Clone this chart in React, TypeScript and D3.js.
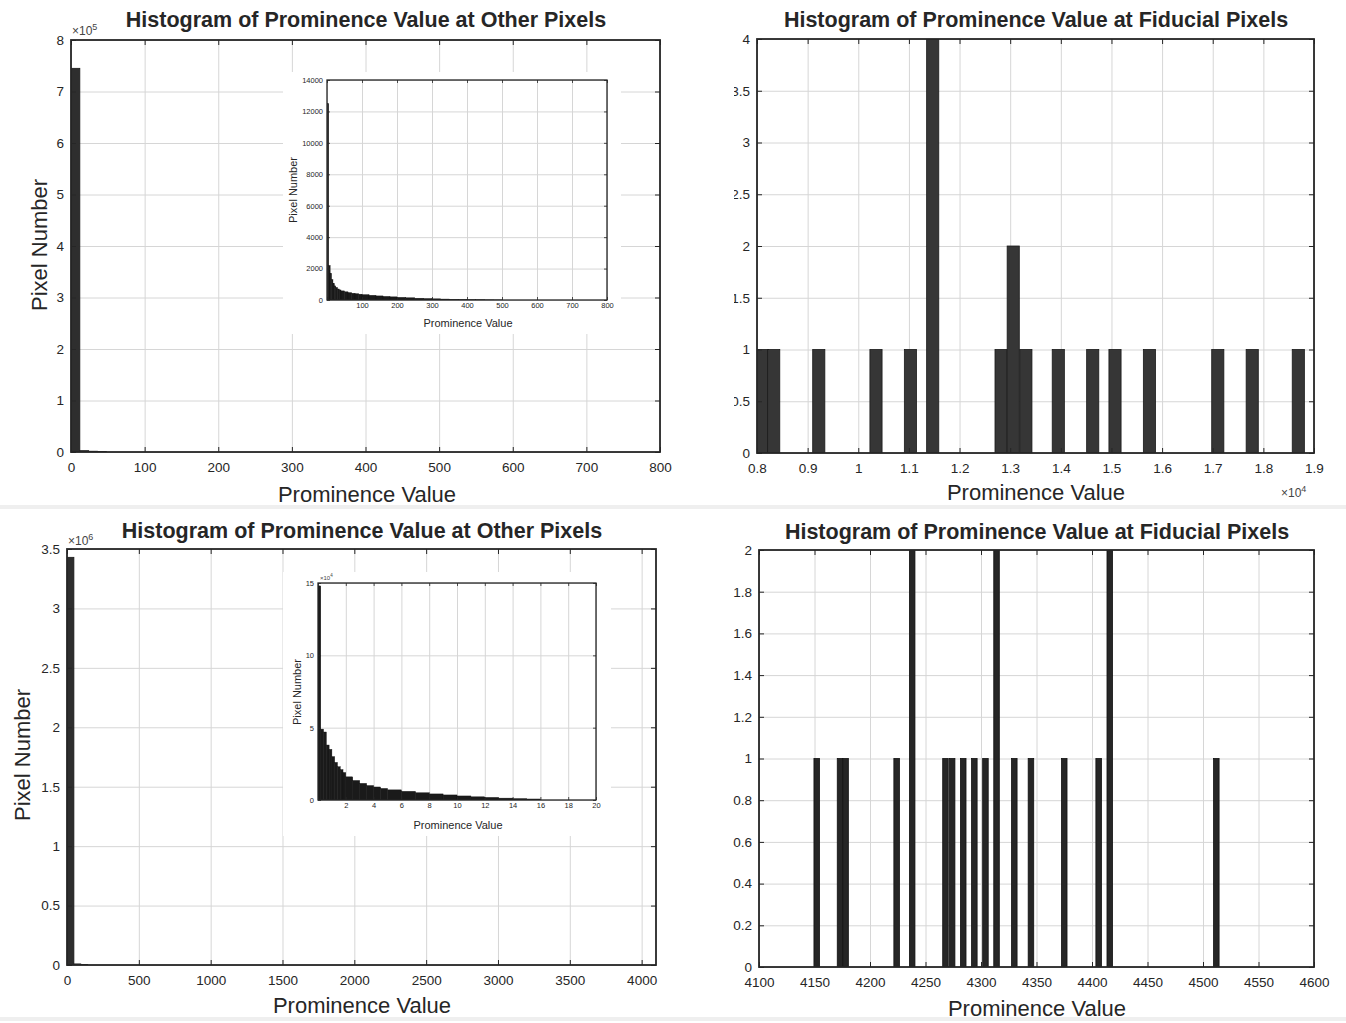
import React, { useEffect, useRef } from "react";
import * as d3 from "d3";

// ---- data ----

// top-left: other pixels, full range (bin edges / counts)
const otherAEdges = [0, 12, 24, 36, 48];
const otherACounts = [745000, 2600, 1500, 900];

// top-left inset: other pixels with zero values left out
const insetAEdges = [1, 5, 9, 13, 17, 21, 25, 30, 35, 40, 50, 60, 70, 80, 90, 100, 120, 140, 160, 180, 200, 225, 250, 275, 300, 325, 350, 375, 400, 425, 450, 475, 500];
const insetACounts = [12500, 2200, 1700, 1300, 1050, 900, 800, 700, 640, 580, 520, 470, 430, 400, 370, 340, 300, 260, 230, 200, 170, 140, 115, 95, 75, 60, 45, 35, 20, 15, 12, 8];

// top-right: fiducial pixels (bin centres, x10^4)
const fidACenters = [0.811, 0.833, 0.922, 1.035, 1.103, 1.147, 1.282, 1.306, 1.331, 1.395, 1.463, 1.507, 1.575, 1.71, 1.778, 1.869];
const fidACounts = [1, 1, 1, 1, 1, 4, 1, 2, 1, 1, 1, 1, 1, 1, 1, 1];
const fidAWidth = 0.024;

// bottom-left: other pixels, full range
const otherBEdges = [0, 48, 96, 144];
const otherBCounts = [3430000, 9000, 4000];

// bottom-left inset (x10^4 on y)
const insetBEdges = [0, 0.2, 0.4, 0.6, 0.8, 1, 1.2, 1.4, 1.6, 1.8, 2, 2.5, 3, 3.5, 4, 4.5, 5, 6, 7, 8, 9, 10, 11, 12, 13, 14, 15, 16];
const insetBCounts = [148000, 49000, 47000, 38000, 35000, 30000, 26000, 23000, 21000, 19000, 16000, 13500, 11500, 10000, 9000, 8000, 7000, 6000, 5000, 4200, 3500, 2800, 2200, 1800, 1300, 1000, 700];

// bottom-right: fiducial pixels (bin centres)
const fidBCenters = [4152, 4173, 4178, 4224, 4238, 4268, 4274, 4284, 4294, 4304, 4314, 4330, 4345, 4375, 4406, 4416, 4512];
const fidBCounts = [1, 1, 1, 1, 2, 1, 1, 1, 1, 1, 2, 1, 1, 1, 1, 2, 1];
const fidBWidth = 5;

const titleOther = "Histogram of Prominence Value at Other Pixels";
const titleFid = "Histogram of Prominence Value at Fiducial Pixels";
const xLabel = "Prominence Value";
const yLabel = "Pixel Number";

const FONT = "'Liberation Sans', Arial, Helvetica, sans-serif";
const INK = "#262626";
const GRID = "#d6d6d6";

const fromEdges = (edges, counts) => counts.map((v, i) => ({ x0: edges[i], x1: edges[i + 1], v }));
const fromCenters = (centers, counts, w) => counts.map((v, i) => ({ x0: centers[i] - w / 2, x1: centers[i] + w / 2, v }));

const fmt = d3.format("~g");

function drawHist(svg, id, r, o) {
  const x = d3.scaleLinear().domain(o.xDom).range([r.left, r.right]);
  const y = d3.scaleLinear().domain(o.yDom).range([r.bottom, r.top]);
  const w = r.right - r.left;
  const h = r.bottom - r.top;
  const g = svg.append("g");

  g.append("rect").attr("x", r.left).attr("y", r.top).attr("width", w).attr("height", h).attr("fill", "#fff");

  // grid
  g.append("g")
    .attr("transform", `translate(0,${r.bottom})`)
    .call(d3.axisBottom(x).tickValues(o.xTicks).tickSize(-h).tickFormat(() => ""))
    .call((a) => a.select(".domain").remove())
    .selectAll("line").attr("stroke", GRID);
  g.append("g")
    .attr("transform", `translate(${r.left},0)`)
    .call(d3.axisLeft(y).tickValues(o.yTicks).tickSize(-w).tickFormat(() => ""))
    .call((a) => a.select(".domain").remove())
    .selectAll("line").attr("stroke", GRID);

  // bars
  svg.append("clipPath").attr("id", id)
    .append("rect").attr("x", r.left).attr("y", r.top).attr("width", w).attr("height", h);
  g.append("g")
    .attr("clip-path", `url(#${id})`)
    .selectAll("rect")
    .data(o.bins)
    .join("rect")
    .attr("x", (d) => x(d.x0))
    .attr("width", (d) => Math.max(0.6, x(d.x1) - x(d.x0)))
    .attr("y", (d) => y(d.v))
    .attr("height", (d) => y(0) - y(d.v))
    .attr("fill", o.barFill)
    .attr("stroke", o.barEdge)
    .attr("stroke-width", o.barEdgeW);

  // ticks on all four sides, pointing in
  const t = o.tick;
  const axes = [
    g.append("g").attr("transform", `translate(0,${r.bottom})`)
      .call(d3.axisBottom(x).tickValues(o.xTicks).tickSizeInner(-t).tickSizeOuter(0).tickPadding(o.xPad).tickFormat(o.xFmt)),
    g.append("g").attr("transform", `translate(0,${r.top})`)
      .call(d3.axisTop(x).tickValues(o.xTicks).tickSizeInner(-t).tickSizeOuter(0).tickFormat(() => "")),
    g.append("g").attr("transform", `translate(${r.left},0)`)
      .call(d3.axisLeft(y).tickValues(o.yTicks).tickSizeInner(-t).tickSizeOuter(0).tickPadding(o.yPad).tickFormat(o.yFmt)),
    g.append("g").attr("transform", `translate(${r.right},0)`)
      .call(d3.axisRight(y).tickValues(o.yTicks).tickSizeInner(-t).tickSizeOuter(0).tickFormat(() => "")),
  ];
  axes.forEach((a) => {
    a.select(".domain").remove();
    a.selectAll("line").attr("stroke", INK).attr("stroke-width", o.tickW);
    a.attr("font-family", FONT).attr("font-size", o.fontSize);
    a.selectAll("text").attr("fill", INK);
  });
  if (o.hideX0) axes[0].selectAll(".tick text").filter((d) => d === 0).remove();

  g.append("rect")
    .attr("x", r.left).attr("y", r.top).attr("width", w).attr("height", h)
    .attr("fill", "none").attr("stroke", INK).attr("stroke-width", o.boxW);
  return g;
}

function addText(g, txt, x, y, size, weight = "normal", rotate = false) {
  const t = g.append("text")
    .attr("font-family", FONT)
    .attr("font-size", size)
    .attr("font-weight", weight)
    .attr("fill", INK)
    .attr("text-anchor", "middle")
    .text(txt);
  if (rotate) t.attr("transform", `translate(${x},${y}) rotate(-90)`);
  else t.attr("x", x).attr("y", y);
  return t;
}

function addExp(g, x, y, p, size) {
  const t = g.append("text").attr("x", x).attr("y", y)
    .attr("font-family", FONT).attr("font-size", size).attr("fill", "#444");
  t.append("tspan").text("\u00d710");
  t.append("tspan").attr("dy", -size * 0.45).attr("font-size", size * 0.75).text(p);
}

const mainStyle = {
  fontSize: 13.5, tick: 5, tickW: 1, boxW: 1.8, xPad: 10, yPad: 7,
  barFill: "#2e2e2e", barEdge: "#1a1a1a", barEdgeW: 0.8,
};
const insetStyle = {
  fontSize: 7.5, tick: 3, tickW: 0.8, boxW: 1.3, xPad: 3, yPad: 4,
  barFill: "#1a1a1a", barEdge: "#111", barEdgeW: 0.4, hideX0: true,
};

const TITLE_SIZE = 21.5;
const LABEL_SIZE = 22;

export default function App() {
  const svgRef = useRef(null);

  useEffect(() => {
    const svg = d3.select(svgRef.current);
    svg.selectAll("*").remove();

    svg.append("rect").attr("width", 1346).attr("height", 1023).attr("fill", "#fff");
    svg.append("rect").attr("x", 0).attr("y", 505).attr("width", 1346).attr("height", 4).attr("fill", "#efefef");
    svg.append("rect").attr("x", 0).attr("y", 1017).attr("width", 1346).attr("height", 4).attr("fill", "#efefef");

    // ---- top-left ----
    const tl = svg.append("g");
    drawHist(tl, "clipTL", { left: 71, right: 660, top: 40, bottom: 452 }, {
      ...mainStyle,
      xDom: [0, 800], yDom: [0, 8e5],
      xTicks: d3.range(0, 801, 100), yTicks: d3.range(0, 9).map((d) => d * 1e5),
      xFmt: fmt, yFmt: (d) => fmt(d / 1e5),
      bins: fromEdges(otherAEdges, otherACounts),
    });
    addExp(tl, 72, 35, "5", 12);
    addText(tl, titleOther, 366, 27, TITLE_SIZE, "bold");
    addText(tl, xLabel, 367, 502, LABEL_SIZE);
    addText(tl, yLabel, 47, 245, LABEL_SIZE, "normal", true);

    tl.append("rect").attr("x", 283).attr("y", 72).attr("width", 338).attr("height", 262).attr("fill", "#fff");
    drawHist(tl, "clipTLi", { left: 327, right: 607, top: 80, bottom: 300 }, {
      ...insetStyle,
      xDom: [0, 800], yDom: [0, 14000],
      xTicks: d3.range(0, 801, 100), yTicks: d3.range(0, 14001, 2000),
      xFmt: fmt, yFmt: fmt,
      bins: fromEdges(insetAEdges, insetACounts),
    });
    addText(tl, xLabel, 468, 327, 11);
    addText(tl, yLabel, 297, 190, 11, "normal", true);

    // ---- top-right ----
    svg.append("clipPath").attr("id", "panelTR")
      .append("rect").attr("x", 734).attr("y", 0).attr("width", 612).attr("height", 505);
    const tr = svg.append("g").attr("clip-path", "url(#panelTR)");
    drawHist(tr, "clipTR", { left: 757, right: 1314, top: 39, bottom: 453 }, {
      ...mainStyle, barFill: "#363636",
      xDom: [0.8, 1.9], yDom: [0, 4],
      xTicks: d3.range(0, 12).map((i) => 0.8 + i * 0.1), yTicks: d3.range(0, 9).map((i) => i * 0.5),
      xFmt: (d) => fmt(+d.toFixed(2)), yFmt: (d) => fmt(+d.toFixed(2)),
      bins: fromCenters(fidACenters, fidACounts, fidAWidth),
    });
    addExp(tr, 1281, 497, "4", 12);
    addText(tr, titleFid, 1036, 27, TITLE_SIZE, "bold");
    addText(tr, xLabel, 1036, 500, LABEL_SIZE);

    // ---- bottom-left ----
    const bl = svg.append("g");
    drawHist(bl, "clipBL", { left: 67, right: 656, top: 549, bottom: 965 }, {
      ...mainStyle,
      xDom: [0, 4100], yDom: [0, 3.5e6],
      xTicks: d3.range(0, 4001, 500), yTicks: d3.range(0, 8).map((i) => i * 5e5),
      xFmt: fmt, yFmt: (d) => fmt(d / 1e6),
      bins: fromEdges(otherBEdges, otherBCounts),
    });
    addExp(bl, 68, 545, "6", 12);
    addText(bl, titleOther, 362, 538, TITLE_SIZE, "bold");
    addText(bl, xLabel, 362, 1013, LABEL_SIZE);
    addText(bl, yLabel, 30, 755, LABEL_SIZE, "normal", true);

    bl.append("rect").attr("x", 283).attr("y", 572).attr("width", 328).attr("height", 264).attr("fill", "#fff");
    drawHist(bl, "clipBLi", { left: 318, right: 596, top: 583, bottom: 800 }, {
      ...insetStyle,
      xDom: [0, 20], yDom: [0, 15e4],
      xTicks: d3.range(0, 21, 2), yTicks: [0, 5e4, 10e4, 15e4],
      xFmt: fmt, yFmt: (d) => fmt(d / 1e4),
      bins: fromEdges(insetBEdges, insetBCounts),
    });
    addExp(bl, 320, 580, "4", 6);
    addText(bl, xLabel, 458, 829, 11);
    addText(bl, yLabel, 301, 692, 11, "normal", true);

    // ---- bottom-right ----
    const br = svg.append("g");
    drawHist(br, "clipBR", { left: 759, right: 1314, top: 550, bottom: 967 }, {
      ...mainStyle, barFill: "#262626", barEdge: "#111",
      xDom: [4100, 4600], yDom: [0, 2],
      xTicks: d3.range(4100, 4601, 50), yTicks: d3.range(0, 11).map((i) => i * 0.2),
      xFmt: fmt, yFmt: (d) => fmt(+d.toFixed(2)),
      bins: fromCenters(fidBCenters, fidBCounts, fidBWidth),
    });
    addText(br, titleFid, 1037, 539, TITLE_SIZE, "bold");
    addText(br, xLabel, 1037, 1016, LABEL_SIZE);
  }, []);

  return (
    <svg
      ref={svgRef}
      width={1346}
      height={1023}
      style={{ position: "absolute", left: 0, top: 0, display: "block" }}
    />
  );
}
